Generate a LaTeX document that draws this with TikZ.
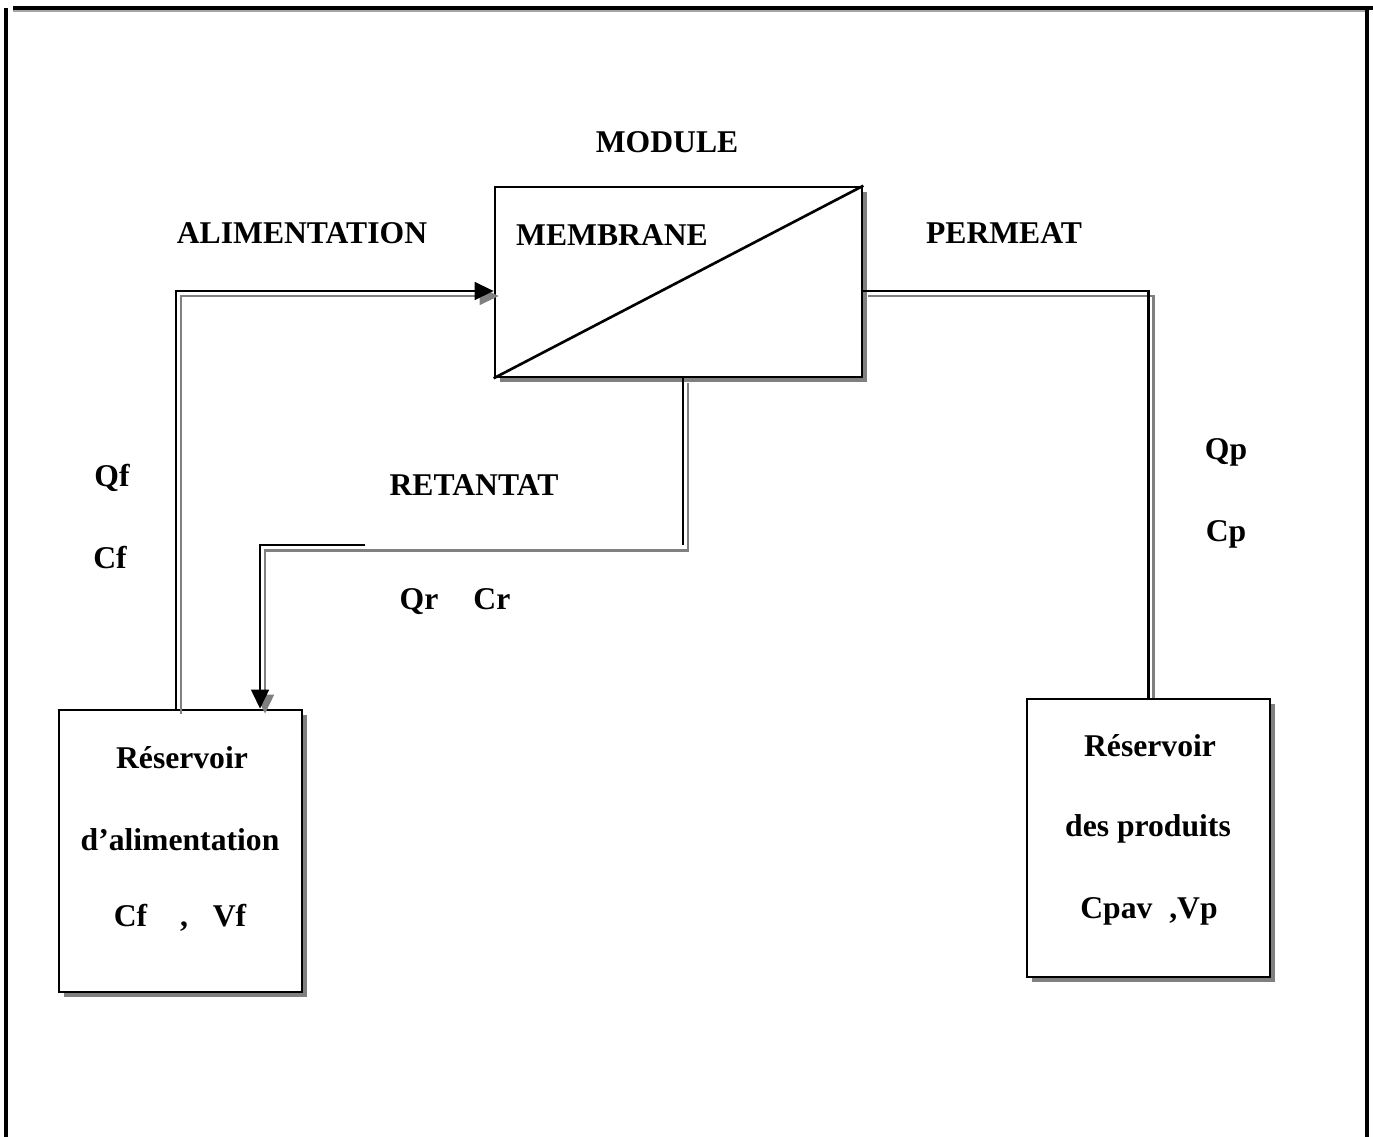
\documentclass[tikz,border=0pt]{standalone}
\usepackage{fontspec}
\setmainfont{Liberation Serif}
\usetikzlibrary{arrows.meta,shadows}

\begin{document}
\begin{tikzpicture}[x=0.01cm, y=-0.01cm, >={Triangle[length=5.4pt,width=5pt]},
    box/.style={draw, line width=0.7pt, fill=white, inner sep=0pt,
      drop shadow={shadow xshift=0.05cm, shadow yshift=-0.05cm, fill=gray, opacity=1}},
    pipe/.style={line width=0.75pt},
    pipeshade/.style={pipe, gray, transform canvas={shift={(0.05cm,-0.05cm)}}},
    lbl/.style={font=\fontsize{9}{11}\selectfont\bfseries, inner sep=0pt}]
    \useasboundingbox (0,0) rectangle (1373,1137);
    % cadre
    \draw[gray!70, line width=0.6pt] (13,11) -- (1366,11);
    \draw[line width=1pt] (13,8) -- (1373,8);
    \draw[line width=1pt] (6,8) -- (6,1137);
    \draw[line width=1pt] (1367,8) -- (1367,1137);
    % blocs
    \node[box, minimum width=3.67cm, minimum height=1.9cm] (module) at (678.5,282) {};
    \draw[pipe] (module.south west) -- (module.north east);
    \node[box, minimum width=2.43cm, minimum height=2.82cm] (tankf) at (180.5,851) {};
    \node[box, minimum width=2.43cm, minimum height=2.78cm] (tankp) at (1148.5,838) {};
    % textes
    \node[lbl] (modlbl) at (667,142) {MODULE};
    \node[lbl] (memlbl) at (612,235) {MEMBRANE};
    \node[lbl] (alimlbl) at (302,233) {ALIMENTATION};
    \node[lbl] (permlbl) at (1004,233) {PERMEAT};
    \node[lbl] (retlbl) at (474,485) {RETANTAT};
    \node[lbl] (qf) at (112,478) {Qf};
    \node[lbl] (cf) at (110,558) {Cf};
    \node[lbl] (qrcr) at (455,602) {Qr\hspace{10pt}Cr};
    \node[lbl] (qp) at (1226,452) {Qp};
    \node[lbl] (cp) at (1226,534) {Cp};
    \node[lbl] (tf1) at (182,758) {Réservoir};
    \node[lbl] (tf2) at (180,840) {d’alimentation};
    \node[lbl] (tf3) at (180,918) {Cf\hspace{9.4pt},\hspace{7pt}Vf};
    \node[lbl] (tp1) at (1150,746) {Réservoir};
    \node[lbl] (tp2) at (1148,829) {des produits};
    \node[lbl] (tp3) at (1149,911) {Cpav\hspace{4.8pt},Vp};
    % conduites (ombre)
    \draw[pipeshade,->] ([xshift=-0.045cm]tankf.north) |- ([yshift=-0.09cm]module.west);
    \draw[pipeshade,shorten >=1.4pt] ([yshift=-0.09cm]module.east) -| (tankp.north);
    \draw[pipeshade,->] ([xshift=0.045cm]module.south) -- ++(0,167) -| ([xshift=0.795cm]tankf.north);
    % conduites
    \coordinate (rbreak) at (365,545);
    \draw[pipe,->] ([xshift=-0.045cm]tankf.north) |- ([yshift=-0.09cm]module.west);
    \draw[pipe] ([yshift=-0.09cm]module.east) -| (tankp.north);
    \draw[pipe] ([xshift=0.045cm]module.south) -- ++(0,167);
    \draw[pipe,->] (rbreak) -| ([xshift=0.795cm]tankf.north);
\end{tikzpicture}
\end{document}
